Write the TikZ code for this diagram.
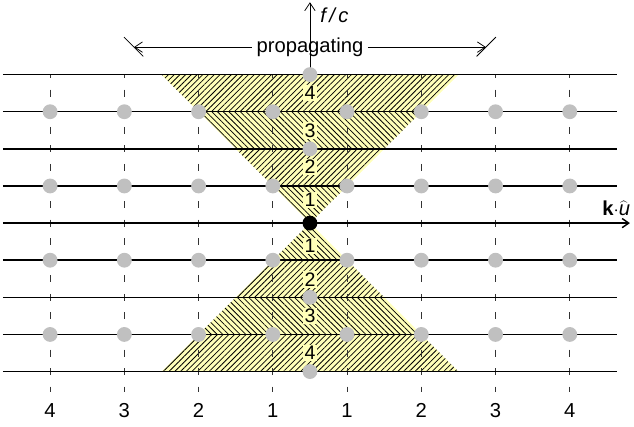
\documentclass[tikz,border=0pt]{standalone}
\usepackage{fontspec}
\setmainfont{Liberation Sans}
\usepackage{xcolor}
\usetikzlibrary{arrows.meta, patterns.meta, positioning}

\definecolor{conefill}{RGB}{255,255,185}
\definecolor{dotgray}{RGB}{192,192,192}

\begin{document}
\begin{tikzpicture}[
    % Define simple, standard styles
    gridline/.style={line width=1.1pt, draw=black},
    dashline/.style={line width=0.7pt, draw=black!80, dash pattern=on 5.4pt off 8.83pt, dash phase=2.7pt},
    band/.style={fill=conefill, postaction={pattern={Lines[angle=#1, distance=3.1pt, line width=0.6pt]}}},
    dot/.style={circle, fill=dotgray, inner sep=0pt, minimum size=0.4cm},
    origin/.style={circle, fill=black, inner sep=0pt, minimum size=0.4cm},
    numlabel/.style={fill=conefill, inner sep=1pt, font=\fontsize{15}{17}\selectfont},
    axislabel/.style={font=\fontsize{15.5}{18}\selectfont},
    barb/.style={-{Straight Barb[length=6pt, width=8pt]}, line width=0.6pt}
]

% 0. Page size with the same margins as the reference
\useasboundingbox (-8.35,-5.47) rectangle (8.73,6.01);

% 1. Hatched bands of the cone, above and below the axis
\foreach \k in {1,...,4} {
  \pgfmathtruncatemacro{\j}{\k-1}
  \pgfmathsetmacro{\ang}{ifthenelse(mod(\k,2)==1,-45,45)}
  \path[band=\ang] (-\j,\j) -- (\j,\j) -- (\k,\k) -- (-\k,\k) -- cycle;
  \path[band=\ang] (-\j,-\j) -- (\j,-\j) -- (\k,-\k) -- (-\k,-\k) -- cycle;
}

% 2. Dashed verticals
\foreach \x in {-7,-5,...,7}
  \draw[dashline] (\x,4) -- (\x,-4.55);

% 3. Horizontal lines
\foreach \y in {-4,-3,-2,-1,1,2,3,4}
  \draw[gridline] (-8.27,\y) -- (8.27,\y);

% 4. Axes
\coordinate (kstart) at (-8.27,0);
\coordinate (kend) at (8.62,0);
\draw[gridline, -{Straight Barb[length=5pt, width=7pt]}] (kstart) -- (kend);
\node[axislabel, inner sep=0pt] (klabel) at (8.25,0.4) {\textbf{k}$\cdot\widehat{\textit{u}}$};

\coordinate (fbase) at (0,4);
\coordinate (ftop) at (0,5.95);
\draw[barb] (fbase) -- (ftop);
\node[axislabel, anchor=west] (flabel) at (0.16,5.6) {\itshape f\,/\,c};

% 5. Propagating range
\node[axislabel] (prop) at (0,4.74) {propagating};
\coordinate (propL) at (-4.74,4.74);
\coordinate (propR) at (4.74,4.74);
\draw[barb] (prop.west) -- (propL);
\draw[barb] (prop.east) -- (propR);
\draw[line width=0.6pt] (propL) ++(-0.27,0.27) -- ++(0.52,-0.52);
\draw[line width=0.6pt] (propR) ++(0.27,0.27) -- ++(-0.52,-0.52);

% 6. Lattice points
\foreach \y in {-3,-1,1,3}
  \foreach \x in {-7,-5,...,7}
    \node[dot] (d\x\y) at (\x,\y) {};
\foreach \y in {-4,-2,2,4}
  \node[dot] (c\y) at (0,\y) {};
\node[origin] (o) at (0,0) {};

% 7. Band numbers
\foreach \k/\y in {1/0.62, 2/1.52, 3/2.5, 4/3.5} {
  \node[numlabel] (up\k) at (0,\y) {\k};
  \node[numlabel] (dn\k) at (0,-\y) {\k};
}

% 8. Numbers under the verticals
\foreach \x/\n in {-7/4, -5/3, -3/2, -1/1, 1/1, 3/2, 5/3, 7/4}
  \node[axislabel] (b\x) at (\x,-5.04) {\n};

\end{tikzpicture}
\end{document}
